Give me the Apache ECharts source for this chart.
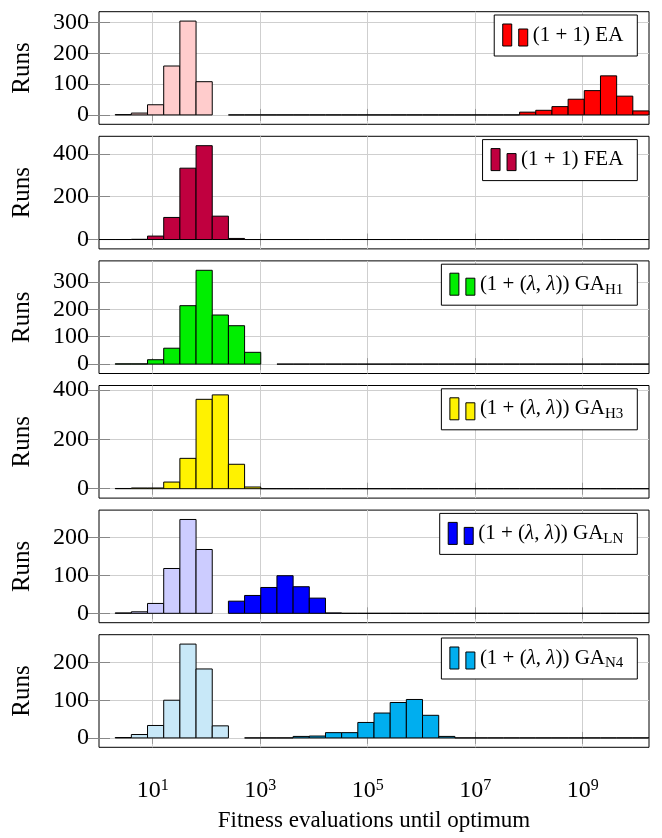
<!DOCTYPE html>
<html>
<head>
<meta charset="utf-8">
<script src="https://cdn.jsdelivr.net/npm/echarts@6/dist/echarts.min.js"></script>
<style>
  html, body { margin: 0; padding: 0; background: #fff; }
  #chart { width: 662px; height: 838px; }
</style>
</head>
<body>
<div id="chart"></div>
<script>
// bins are [2^k, 2^(k+1)], k = 0 .. 33
const NBINS = 34;
const LOG2 = Math.log10(2);
const xTicks = [1, 3, 5, 7, 9];   // powers of ten with labels

// one row per algorithm: small-n runs (light) and large-n runs (dark)
const panelNames = ['EA', 'FEA', 'H1', 'H3', 'LN', 'N4'];
const panelLabels = [
  '(1\u2005+\u20051) EA',
  '(1\u2005+\u20051) FEA',
  '(1\u2005+\u2005({i|λ},\u2005{i|λ})) GA{sub|H1}',
  '(1\u2005+\u2005({i|λ},\u2005{i|λ})) GA{sub|H3}',
  '(1\u2005+\u2005({i|λ},\u2005{i|λ})) GA{sub|LN}',
  '(1\u2005+\u2005({i|λ},\u2005{i|λ})) GA{sub|N4}'
];
const yTicks = [
  [0, 100, 200, 300],
  [0, 200, 400],
  [0, 100, 200, 300],
  [0, 200, 400],
  [0, 100, 200],
  [0, 100, 200]
];

// first bin of each array
const lowStart = [1, 0, 1, 1, 1, 1];
const highStart = [8, 9, 11, 10, 8, 9];

const eaLow = [1, 6, 33, 159, 305, 108];
const eaHigh = [0, 0, 0, 0, 0, 0, 0, 0, 0, 0, 0, 0, 0, 0, 0, 0, 0, 0,
  9, 15, 27, 51, 79, 127, 61, 13];
const feaLow = [0, 0, 1, 16, 103, 333, 438, 109, 5];
const feaHigh = new Array(25).fill(0);
const h1Low = [1, 1, 16, 58, 213, 342, 179, 140, 43];
const h1High = new Array(23).fill(0);
const h3Low = [1, 3, 3, 27, 123, 362, 380, 99, 7];
const h3High = new Array(24).fill(0);
const lnLow = [1, 4, 26, 118, 247, 168];
const lnHigh = [32, 47, 68, 99, 70, 40, 1, 0, 0, 0, 0, 0, 0, 0, 0, 0, 0, 0, 0,
  0, 0, 0, 0, 0, 0, 0];
const n4Low = [1, 9, 33, 100, 249, 183, 32];
const n4High = [0, 0, 0, 4, 5, 14, 14, 41, 66, 94, 102, 60, 4, 0, 0, 0, 0, 0, 0,
  0, 0, 0, 0, 0, 0];

const lowData = [eaLow, feaLow, h1Low, h3Low, lnLow, n4Low];
const highData = [eaHigh, feaHigh, h1High, h3High, lnHigh, n4High];

const lowColors = ['#ffcccc', '#c0003f', '#00ee00', '#fff200', '#ccccff', '#c8e8f8'];
const highColors = ['#ff0000', '#c0003f', '#00ee00', '#fff200', '#0000ff', '#00aeef'];

const FONT = 'Liberation Serif';
const LEFT = 99, RIGHT = 13;
const TOP0 = 11.7, STEP = 124.6, PH = 112.6;
const ICON = 'path://M0,0h9v22h-9z M16,5h9v17h-9z';

function toPoints(arr, start) {
  return arr.map((v, j) => [start + j, v]);
}

function renderBin(params, api) {
  const k = api.value(0);
  const v = api.value(1);
  const p0 = api.coord([k * LOG2, v]);
  const p1 = api.coord([(k + 1) * LOG2, 0]);
  return {
    type: 'rect',
    shape: { x: p0[0], y: p0[1], width: p1[0] - p0[0], height: p1[1] - p0[1] },
    style: api.style()
  };
}

const chart = echarts.init(document.getElementById('chart'));

const grid = [], xAxis = [], yAxis = [], series = [], legend = [];

panelNames.forEach((name, i) => {
  const top = TOP0 + i * STEP;
  const maxVal = Math.max(...lowData[i], ...highData[i]);
  const last = i === panelNames.length - 1;
  grid.push({
    left: LEFT, right: RIGHT, top: top, height: PH,
    show: true, borderColor: '#000', borderWidth: 1, backgroundColor: 'transparent'
  });
  xAxis.push({
    type: 'value', gridIndex: i, min: 0, max: NBINS * LOG2,
    axisLine: { show: false },
    axisTick: { show: true, length: 6, lineStyle: { color: '#999' }, customValues: xTicks },
    axisLabel: {
      show: last, customValues: xTicks, margin: 30, color: '#000',
      formatter: v => '{b|10}{s|' + Math.round(v) + '}',
      rich: {
        b: { fontFamily: FONT, fontSize: 24, lineHeight: 26, color: '#000' },
        s: { fontFamily: FONT, fontSize: 16, lineHeight: 16, verticalAlign: 'top', color: '#000' }
      }
    },
    splitLine: { show: true, lineStyle: { color: '#cfcfcf', width: 1 } },
    name: last ? 'Fitness evaluations until optimum' : '',
    nameLocation: 'middle', nameGap: 62,
    nameTextStyle: { fontFamily: FONT, fontSize: 23, color: '#000' }
  });
  xAxis.push({
    type: 'value', gridIndex: i, position: 'top', min: 0, max: NBINS * LOG2,
    axisLine: { show: false },
    axisTick: { show: true, length: 6, lineStyle: { color: '#999' }, customValues: xTicks },
    axisLabel: { show: false },
    splitLine: { show: false }
  });
  yAxis.push({
    type: 'value', gridIndex: i, min: -0.1 * maxVal, max: 1.1 * maxVal,
    axisLine: { show: false },
    axisTick: { show: true, inside: true, length: 11, lineStyle: { color: '#888' }, customValues: yTicks[i] },
    axisLabel: { customValues: yTicks[i], margin: 10, fontFamily: FONT, fontSize: 24, color: '#000' },
    splitLine: { show: true, lineStyle: { color: '#cfcfcf', width: 1 } },
    name: 'Runs', nameLocation: 'middle', nameGap: 64, nameRotate: 90,
    nameTextStyle: { fontFamily: FONT, fontSize: 25, color: '#000' }
  });
  yAxis.push({
    type: 'value', gridIndex: i, position: 'right', min: -0.1 * maxVal, max: 1.1 * maxVal,
    axisLine: { show: false },
    axisTick: { show: true, inside: true, length: 11, lineStyle: { color: '#888' }, customValues: yTicks[i] },
    axisLabel: { show: false },
    splitLine: { show: false }
  });
  series.push({
    type: 'custom', name: name + '-low', xAxisIndex: 2 * i, yAxisIndex: 2 * i,
    renderItem: renderBin, encode: { x: 0, y: 1 },
    itemStyle: { color: lowColors[i], borderColor: '#000', borderWidth: 1 },
    data: toPoints(lowData[i], lowStart[i])
  });
  series.push({
    type: 'custom', name: name, xAxisIndex: 2 * i, yAxisIndex: 2 * i,
    renderItem: renderBin, encode: { x: 0, y: 1 },
    itemStyle: { color: highColors[i], borderColor: '#000', borderWidth: 1 },
    data: toPoints(highData[i], highStart[i])
  });
  legend.push({
    data: [name], top: top + 3.3, right: 24.7,
    backgroundColor: '#fff', borderColor: '#000', borderWidth: 1, borderRadius: 0,
    padding: [7, 14, 8, 8], itemWidth: 25, itemHeight: 22, icon: ICON,
    itemStyle: { color: highColors[i], borderColor: '#000', borderWidth: 1 },
    selectedMode: false,
    formatter: () => panelLabels[i],
    textStyle: {
      fontFamily: FONT, fontSize: 21, color: '#000', lineHeight: 26,
      rich: {
        i: { fontFamily: FONT, fontSize: 21, fontStyle: 'italic', color: '#000', lineHeight: 26 },
        sub: { fontFamily: FONT, fontSize: 15, color: '#000', lineHeight: 21, verticalAlign: 'bottom' }
      }
    }
  });
});

chart.setOption({
  animation: false,
  backgroundColor: '#fff',
  grid: grid,
  xAxis: xAxis,
  yAxis: yAxis,
  legend: legend,
  series: series
});
</script>
</body>
</html>
